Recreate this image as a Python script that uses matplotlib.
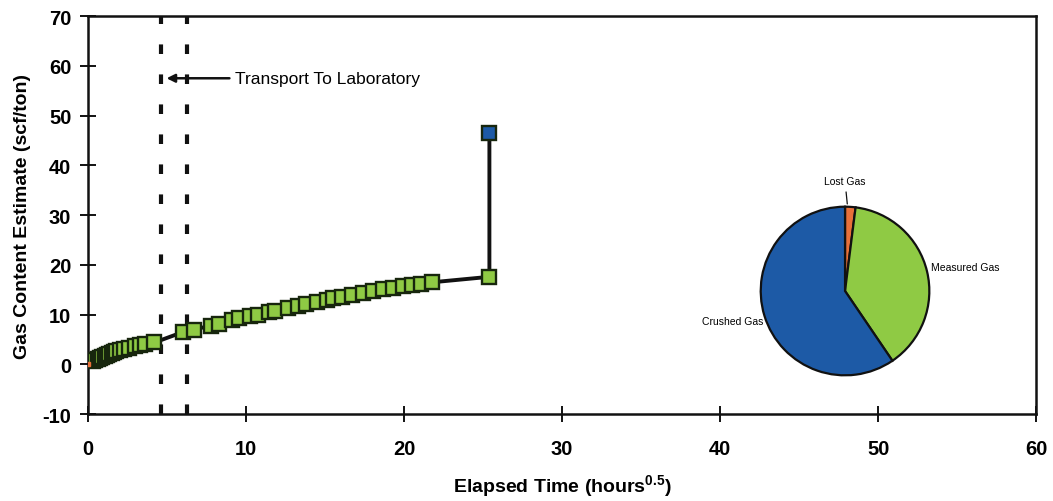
import matplotlib
matplotlib.use("Agg")
import matplotlib.pyplot as plt

plt.rcParams["axes.unicode_minus"] = False
plt.rcParams["mathtext.fontset"] = "custom"
plt.rcParams["mathtext.bf"] = "Liberation Sans:bold"
plt.rcParams["mathtext.rm"] = "Liberation Sans"

# Desorption readings: sqrt of elapsed hours vs cumulative gas content
time_sqrt = [0.0, 0.3, 0.45, 0.6, 0.75, 0.9, 1.05, 1.2, 1.35, 1.5, 1.65, 1.8,
             2.0, 2.3, 2.6, 3.0, 3.3, 3.6, 4.2,
             6.01, 6.71, 7.78, 8.29, 9.11, 9.56, 10.25, 10.76, 11.46, 11.84,
             12.66, 13.29, 13.80, 14.49, 15.13, 15.51, 16.08, 16.71, 17.41,
             18.04, 18.67, 19.30, 19.94, 20.51, 21.08, 21.77, 25.4]
gas_content = [0.0, 0.6, 0.9, 1.1, 1.3, 1.5, 1.7, 1.9, 2.1, 2.3, 2.4, 2.6,
               2.8, 3.1, 3.3, 3.6, 3.8, 4.0, 4.4,
               6.5, 7.0, 7.8, 8.2, 8.9, 9.3, 9.7, 10.0, 10.5, 10.8,
               11.3, 11.8, 12.1, 12.6, 13.0, 13.3, 13.6, 14.0, 14.4,
               14.8, 15.1, 15.4, 15.7, 16.0, 16.2, 16.5, 17.6]

# total after crushing
crushed_time = 25.4
crushed_total = 46.5

# transport window
transport_start = 4.62
transport_end = 6.27

pie_labels = ["Lost Gas", "Measured Gas", "Crushed Gas"]
pie_values = [2.0, 38.5, 59.5]
pie_colors = ["#e8703a", "#8fca44", "#1d5aa6"]

FONT = ["Liberation Sans", "DejaVu Sans"]
bold = dict(family=FONT, fontweight="bold")

fig = plt.figure(figsize=(10.53, 5.02), dpi=100)
ax = fig.add_axes([0.0836, 0.173, 0.9004, 0.793])

ax.plot(time_sqrt + [crushed_time], gas_content + [crushed_total],
        color="#111111", lw=2.8, zorder=2)
ax.plot(time_sqrt[1:], gas_content[1:], ls="none", marker="s", ms=10,
        mfc="#8fca44", mec="#17260d", mew=1.7, zorder=3)
ax.plot([0], [0], ls="none", marker="s", ms=3, mfc="#e8703a", mec="#e8703a", zorder=4)
ax.plot([crushed_time], [crushed_total], ls="none", marker="s", ms=10,
        mfc="#1d5aa6", mec="#17260d", mew=1.7, zorder=3)

for xv in (transport_start, transport_end):
    ax.axvline(xv, color="#111111", lw=3, ls=(0, (2.3, 4.9)), zorder=1)

ax.annotate("Transport To Laboratory", xy=(transport_start + 0.35, 57.5),
            xytext=(9.3, 57.5), va="center", ha="left", fontsize=12.5, family=FONT,
            arrowprops=dict(arrowstyle="-|>", color="#111111", lw=1.8,
                            mutation_scale=12, shrinkA=2, shrinkB=0))

ax.set_xlim(0, 60)
ax.set_ylim(-10, 70)
ax.set_xticks(range(0, 61, 10))
ax.set_yticks(range(-10, 71, 10))
ax.tick_params(direction="inout", length=12, width=1.3, pad=12)
for lab in ax.get_xticklabels() + ax.get_yticklabels():
    lab.set_fontsize(14.5)
    lab.set_fontweight("bold")
    lab.set_family(FONT)
ax.tick_params(axis="y", pad=6)
for sp in ax.spines.values():
    sp.set_linewidth(1.8)
    sp.set_color("#111111")

ax.set_xlabel(r"Elapsed Time (hours$^{\mathbf{0.5}}$)", fontsize=14, labelpad=10, **bold)
ax.set_ylabel("Gas Content Estimate (scf/ton)", fontsize=14, labelpad=8, **bold)

# composition pie
pax = fig.add_axes([0.7208, 0.247, 0.1634, 0.3426])
wedges, _ = pax.pie(pie_values, colors=pie_colors, startangle=90, counterclock=False,
                    wedgeprops=dict(edgecolor="#111111", linewidth=1.6))
pax.set_xlim(-1.02, 1.02)
pax.set_ylim(-1.02, 1.02)
pax.set_aspect("equal")
small = dict(family=FONT, fontsize=7.5)
pax.annotate("Lost Gas", xy=(0.03, 1.0), xytext=(0.0, 1.3), ha="center", va="center",
             arrowprops=dict(arrowstyle="-", color="#111111", lw=0.9), **small)
pax.text(1.02, 0.29, "Measured Gas", ha="left", va="center", **small)
pax.text(-0.97, -0.35, "Crushed Gas", ha="right", va="center", **small)

fig.savefig("out.png", dpi=100)
